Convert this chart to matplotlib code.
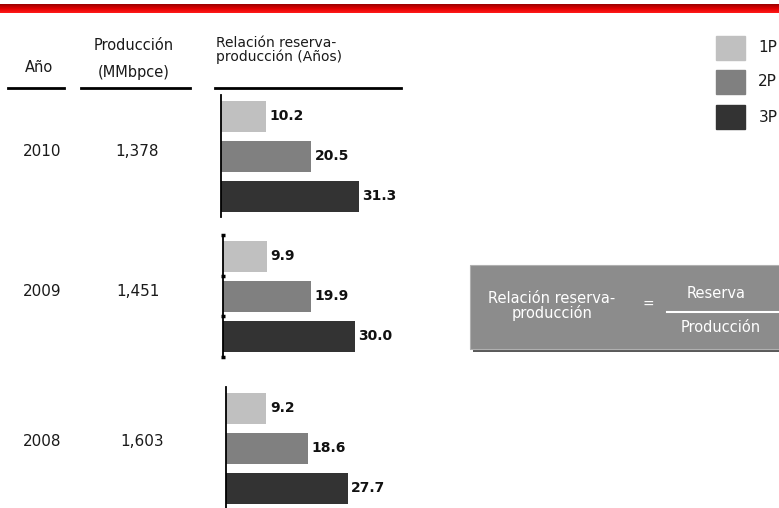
import numpy as np
import matplotlib
matplotlib.use("Agg")
import matplotlib.pyplot as plt
from matplotlib.patches import Rectangle
from matplotlib.colors import LinearSegmentedColormap

W, H = 779, 508

years = ['2010', '2009', '2008']
produccion = ['1,378', '1,451', '1,603']
series = ['1P', '2P', '3P']
ratio_1p = [10.2, 9.9, 9.2]
ratio_2p = [20.5, 19.9, 18.6]
ratio_3p = [31.3, 30.0, 27.7]
colors = ['#c0c0c0', '#808080', '#333333']

# pixel -> figure fraction helpers
def fx(x):
    return x / W

def fy(y):
    return 1 - y / H

plt.rcParams['font.family'] = ['DejaVu Sans']
fig = plt.figure(figsize=(W / 100, H / 100), dpi=100)
fig.patch.set_facecolor('white')

# red band at top
band = fig.add_axes([0, fy(13), 1, (13 - 4) / H])
grad = np.linspace(0, 1, 50).reshape(-1, 1)
red_cmap = LinearSegmentedColormap.from_list('r', ['#9a0000', '#e00000', '#ff1a1a'])
band.imshow(grad, aspect='auto', cmap=red_cmap, extent=[0, 1, 0, 1])
band.axis('off')

txt = '#1a1a1a'
# headers
fig.text(fx(39), fy(68), 'Año', ha='center', va='center', fontsize=10.5, color=txt)
fig.text(fx(134), fy(45), 'Producción', ha='center', va='center', fontsize=10.5, color=txt)
fig.text(fx(134), fy(73), '(MMbpce)', ha='center', va='center', fontsize=10.5, color=txt)
fig.text(fx(216), fy(50), 'Relación reserva-\nproducción (Años)', ha='left', va='center',
         fontsize=10, color=txt, linespacing=0.95)
for x0, x1 in [(8, 64), (81, 190), (215, 401)]:
    fig.add_artist(plt.Line2D([fx(x0), fx(x1)], [fy(88), fy(88)], color='black', lw=2))

# year / production column
year_y = [151, 291, 442]
prod_x = [137.5, 137.5, 142.5]
for i in range(3):
    fig.text(fx(42), fy(year_y[i]), years[i], ha='center', va='center', fontsize=11, color=txt)
    fig.text(fx(prod_x[i]), fy(year_y[i]), produccion[i], ha='center', va='center',
             fontsize=11, color=txt)

# bar groups
axis_x = [221, 223, 226]
axis_top = [95, 235, 387]
px_per_unit = 4.4
ax_w = 170
ax_h = 122
for i in range(3):
    ax = fig.add_axes([fx(axis_x[i]), fy(axis_top[i] + ax_h), ax_w / W, ax_h / H])
    vals = [ratio_1p[i], ratio_2p[i], ratio_3p[i]]
    bars = ax.barh(range(3), vals, height=0.78, color=colors, edgecolor='none')
    ax.bar_label(bars, labels=[f'{v:.1f}' for v in vals], padding=2.5,
                 fontsize=10, fontweight='bold', color='#111111')
    ax.set_xlim(0, ax_w / px_per_unit)
    ax.set_ylim(2.52, -0.53)
    for s in ['top', 'right', 'bottom']:
        ax.spines[s].set_visible(False)
    ax.spines['left'].set_linewidth(1.3)
    ax.set_xticks([])
    if i == 1:
        ax.set_yticks([-0.53, 0.5, 1.5, 2.52])
        ax.tick_params(axis='y', length=3, width=2.5, direction='inout', labelleft=False)
    else:
        ax.set_yticks([])
    ax.patch.set_alpha(0)

# legend
leg_y = [36, 70, 105]
leg_tx = [758, 758, 759]
for i in range(3):
    fig.add_artist(Rectangle((fx(716), fy(leg_y[i] + 24)), 29 / W, 24 / H,
                             transform=fig.transFigure, color=colors[i]))
    fig.text(fx(leg_tx[i]), fy(leg_y[i] + 12), series[i], ha='left', va='center',
             fontsize=11, color=txt)

# formula box
fig.add_artist(Rectangle((fx(473), fy(352)), 310 / W, 84 / H, transform=fig.transFigure,
                         facecolor='#5a5a5a', edgecolor='none'))
fig.add_artist(Rectangle((fx(470), fy(349)), 310 / W, 84 / H, transform=fig.transFigure,
                         facecolor='#8c8c8c', edgecolor='#b0b0b0', lw=0.8))
fig.text(fx(552), fy(306), 'Relación reserva-\nproducción', ha='center', va='center',
         fontsize=10.5, color='white', linespacing=0.95)
fig.text(fx(648), fy(305), '=', ha='center', va='center', fontsize=10, color='white')
fig.add_artist(plt.Line2D([fx(667), fx(779)], [fy(311.5), fy(311.5)], color='white', lw=1.5))
fig.text(fx(716), fy(294), 'Reserva', ha='center', va='center', fontsize=10.5, color='white')
fig.text(fx(721), fy(327), 'Producción', ha='center', va='center', fontsize=10.5, color='white')

fig.savefig('out.png', dpi=100)
